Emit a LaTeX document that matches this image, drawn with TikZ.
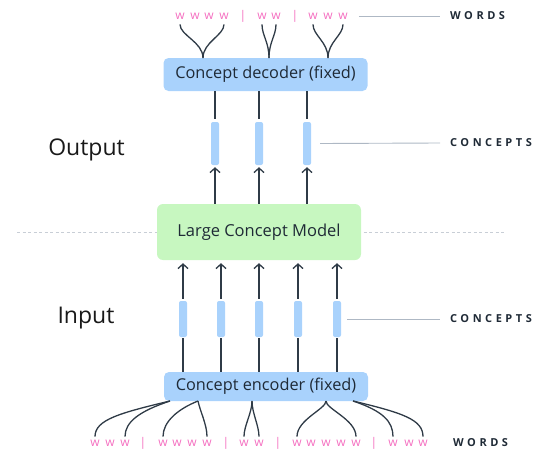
\documentclass[tikz,border=0pt]{standalone}
\usepackage{fontspec}
\setmainfont{Open Sans}
\newfontfamily\capsfont[LetterSpace=32]{Open Sans}
\usepackage{tikz}
\usetikzlibrary{arrows.meta,positioning,calc}
\definecolor{lcmblue}{HTML}{A9D2FC}
\definecolor{lcmgreen}{HTML}{C7F7C0}
\definecolor{lcmink}{HTML}{1F2A36}
\definecolor{lcmline}{HTML}{2F3B47}
\definecolor{lcmpink}{HTML}{F46FC0}
\definecolor{lcmguide}{HTML}{AEB8C4}
\definecolor{lcmdash}{HTML}{C8CED6}
\tikzset{
  codbox/.style={fill=lcmblue, rounded corners=5pt, minimum width=204pt, inner sep=0pt,
                 font=\fontsize{16.3}{18}\selectfont, text=lcmink},
  lcmbox/.style={fill=lcmgreen, rounded corners=6pt, minimum width=204pt, minimum height=56pt,
                 font=\fontsize{16.5}{19}\selectfont, text=lcmink},
  cbar/.style={fill=lcmblue, rounded corners=2pt, minimum width=8pt, inner sep=0pt},
  wtok/.style={text=lcmpink, inner sep=0pt, font=\fontsize{12}{13}\selectfont},
  wsep/.style={wtok, font=\fontsize{8}{9}\selectfont},
  captag/.style={inner sep=0pt, anchor=west, text=lcmink,
                 font=\capsfont\bfseries\fontsize{11}{13}\selectfont},
  sidelbl/.style={font=\fontsize{23}{27}\selectfont, text=black!90},
  lcmlink/.style={draw=lcmline, line width=1.3pt},
  lcmarrow/.style={lcmlink, -{Straight Barb[length=4.5pt,width=10pt]}},
  guide/.style={draw=lcmguide, line width=0.9pt}
}

\begin{document}
\begin{tikzpicture}[x=1pt,y=-1pt]
\useasboundingbox (0,0) rectangle (558,466);

% input / output separator
\coordinate (sepl) at (17,232);
\coordinate (sepr) at (505,232);
\draw[dashed, draw=lcmdash, line width=0.8pt, dash pattern=on 3pt off 2.5pt] (sepl) -- (sepr);

\node[lcmbox] (lcm) at (259,232) {Large Concept Model};
\node[codbox, minimum height=33pt] (dec) at (265.5,74.5) {Concept decoder (fixed)};
\node[codbox, minimum height=29pt] (enc) at (266,386.5) {Concept encoder (fixed)};

\node[sidelbl] (outlbl) at (86.5,150) {Output};
\node[sidelbl] (inlbl) at (86,318) {Input};

% concepts
\foreach \x [count=\i] in {215,259,307}
  \node[cbar, minimum height=43pt] (oc\i) at (\x,143.5) {};
\foreach \x [count=\i] in {183,221,259,298,337}
  \node[cbar, minimum height=36pt] (ic\i) at (\x,319) {};

\foreach \i in {1,2,3} {
  \draw[lcmlink, shorten >=3pt] (dec.south -| oc\i) -- (oc\i.north);
  \draw[lcmarrow, shorten >=2pt] (lcm.north -| oc\i) -- (oc\i.south);
}
\foreach \i in {1,...,5} {
  \draw[lcmlink, shorten >=1pt] (enc.north -| ic\i) -- (ic\i.south);
  \draw[lcmarrow, shorten <=2pt, shorten >=3pt] (ic\i.north) -- (lcm.south -| ic\i);
}

% words
\foreach \x/\t [count=\i] in {180/w,195/w,209/w,224/w,243/|,262/w,276/w,295/|,313/w,328/w,343/w}
  \node[wtok] (tw\i) at (\x,16) {\t};
\foreach \x/\t [count=\i] in {95/w,110/w,125/w,143/|,163/w,177/w,192/w,207/w,226/|,244/w,259/w,
                              278/|,297/w,311/w,326/w,341/w,356/w,374/|,393/w,409/w,423/w}
  \node[wtok] (bw\i) at (\x,443) {\t};

% decoder fans out to words
\coordinate (dj1) at (203,58);
\coordinate (dj2) at (269,58);
\coordinate (dj3) at (328,58);
\foreach \a/\j in {1/1,4/1,6/2,7/2,9/3,11/3}
  \draw[lcmlink, shorten <=5pt] (tw\a.south) .. controls +(0,16) and +(0,-16) .. (dj\j);

% words gathered by encoder
\coordinate (ej1) at (170,401);
\coordinate (ej2) at (198,401);
\coordinate (ej3) at (252,401);
\coordinate (ej4) at (326,401);
\coordinate (ej5) at (353,401);
\draw[lcmlink, shorten >=3pt] (ej1) .. controls +(-50,12) and +(0,-20) .. (bw1.north);
\draw[lcmlink, shorten >=3pt] (ej1) .. controls +(-30,10) and +(0,-18) .. (bw3.north);
\draw[lcmlink, shorten >=3pt] (ej2) .. controls +(-20,8) and +(0,-18) .. (bw5.north);
\draw[lcmlink, shorten >=3pt] (ej2) .. controls +(2,10) and +(0,-15) .. (bw8.north);
\draw[lcmlink, shorten >=3pt] (ej3) .. controls +(0,12) and +(0,-14) .. (bw10.north);
\draw[lcmlink, shorten >=3pt] (ej3) .. controls +(0,12) and +(0,-14) .. (bw11.north);
\draw[lcmlink, shorten >=3pt] (ej4) .. controls +(0,8) and +(0,-20) .. (bw13.north);
\draw[lcmlink, shorten >=3pt] (ej4) .. controls +(0,8) and +(0,-20) .. (bw17.north);
\draw[lcmlink, shorten >=3pt] (ej5) .. controls +(30,10) and +(0,-18) .. (bw19.north);
\draw[lcmlink, shorten >=3pt] (ej5) .. controls +(50,12) and +(0,-20) .. (bw21.north);

% tags on the right
\node[captag] (wtop) at (450,16) {WORDS};
\node[captag] (ctop) at (450,143) {CONCEPTS};
\node[captag] (cbot) at (450,319) {CONCEPTS};
\node[captag] (wbot) at (453,443) {WORDS};
\draw[guide] ([xshift=11pt]tw11.east) -- ([xshift=-10pt]wtop.west);
\draw[guide] ([xshift=9pt]oc3.east) -- ([xshift=-10pt]ctop.west);
\draw[guide] ([xshift=6pt]ic5.east) -- ([xshift=-10pt]cbot.west);
\end{tikzpicture}
\end{document}
